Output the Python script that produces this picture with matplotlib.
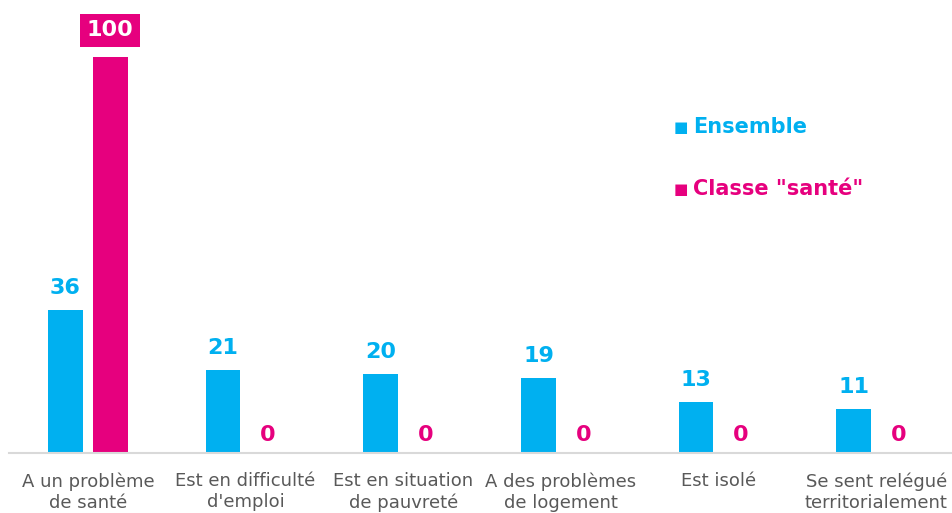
import matplotlib.pyplot as plt
import numpy as np

plt.rcParams["font.family"] = ["DejaVu Sans"]

categories = [
    "A un problème\nde santé",
    "Est en difficulté\nd'emploi",
    "Est en situation\nde pauvreté",
    "A des problèmes\nde logement",
    "Est isolé",
    "Se sent relégué\nterritorialement",
]
ensemble = [36, 21, 20, 19, 13, 11]
classe_sante = [100, 0, 0, 0, 0, 0]
series_names = ["Ensemble", 'Classe "santé"']

BLUE = "#00B0F0"
PINK = "#E6007E"

fig = plt.figure(figsize=(9.53, 5.13), dpi=100)
ax = fig.add_axes([9 / 953, 60 / 513, 946 / 953, 453 / 513])

x = np.arange(len(categories))
w = 0.22
off = 0.142
ax.bar(x - off, ensemble, width=w, color=BLUE)
ax.bar(x + off, classe_sante, width=w, color=PINK)

for xi, v in zip(x, ensemble):
    ax.annotate(f"{v}", (xi - off, v), xytext=(0, 11.5), textcoords="offset points",
                ha="center", va="baseline", color=BLUE, fontsize=16, fontweight="bold")
for xi, v in zip(x, classe_sante):
    if v >= 100:
        ax.annotate(f"{v}", (xi + off, v), xytext=(0, 12), textcoords="offset points",
                    ha="center", va="bottom", color="white", fontsize=16, fontweight="bold",
                    bbox=dict(boxstyle="square,pad=0.3", fc=PINK, ec="none"))
    else:
        ax.annotate(f"{v}", (xi + off, v), xytext=(0, 8.6), textcoords="offset points",
                    ha="center", va="baseline", color=PINK, fontsize=16, fontweight="bold")

ax.set_xlim(-0.5, len(categories) - 0.5)
ax.set_ylim(0, 114.4)
ax.set_xticks(x)
ax.set_xticklabels(categories, fontsize=13, color="#595959", linespacing=1.2)
ax.tick_params(axis="x", length=0, pad=14)
ax.set_yticks([])
for s in ["top", "right", "left"]:
    ax.spines[s].set_visible(False)
ax.spines["bottom"].set_color("#D9D9D9")
ax.spines["bottom"].set_linewidth(1.5)

# legend: coloured squares + coloured bold text
for i, (lab, col) in enumerate(zip(series_names, [BLUE, PINK])):
    yy = 1 - (127 + 62 * i) / 453
    ax.text((681 - 9) / 946, yy, "■", transform=ax.transAxes, color=col,
            fontsize=11, va="center", ha="center")
    ax.text((693 - 9) / 946, yy, lab, transform=ax.transAxes, color=col,
            fontsize=15, fontweight="bold", va="center", ha="left")

fig.savefig("out.png", dpi=100)
